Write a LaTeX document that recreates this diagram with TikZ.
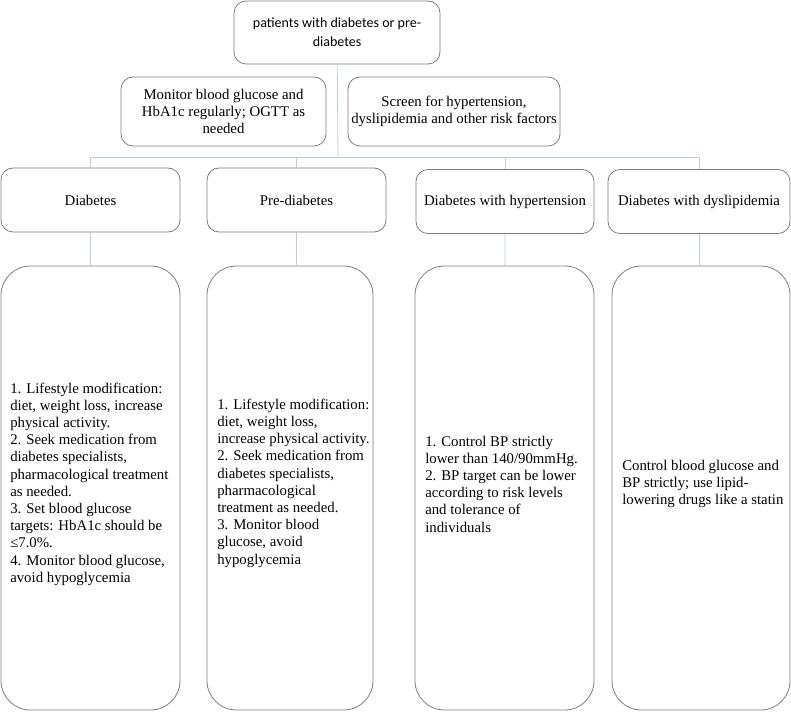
\documentclass[tikz,border=0pt]{standalone}
\usepackage{fontspec}
\setmainfont{Liberation Serif}
\newfontfamily\calibrifont{Carlito}
\usetikzlibrary{positioning,calc}
\definecolor{boxgray}{RGB}{125,125,125}
\definecolor{linkblue}{RGB}{188,206,212}
\tikzset{
    box/.style={
        draw=boxgray,
        line width=0.6pt,
        rounded corners=9pt,
        inner sep=0pt,
        align=center,
        font=\fontsize{11.1}{12.8}\selectfont,
    },
    topbox/.style={box, font=\calibrifont\fontsize{10.5}{14.25}\selectfont},
    headbox/.style={box, minimum height=48pt},
    bodybox/.style={box, rounded corners=22pt, minimum height=333pt},
    bodytext/.style={
        inner sep=0pt,
        align=left,
        anchor=west,
        font=\fontsize{11.1}{12.9}\selectfont,
    },
    link/.style={draw=linkblue, line width=0.6pt},
}

\begin{document}
\begin{tikzpicture}[x=0.75pt, y=-0.75pt]
    \useasboundingbox (0,0) rectangle (791,712);
    % top and screening
    \node [topbox, minimum width=154.5pt, minimum height=47.25pt] (patients) at (337,32.5) {patients with diabetes or pre-\\diabetes};
    \node [box, minimum width=153.75pt, minimum height=51.75pt] (monitor) at (223.5,111.5) {Monitor blood glucose and\\HbA1c regularly; OGTT as\\needed};
    \node [box, minimum width=159pt, minimum height=51.75pt] (screen) at (454,111.5) {Screen for hypertension,\\dyslipidemia and other risk factors};
    \coordinate (bus) at (338,157);
    % categories
    \node [headbox, minimum width=134.25pt] (diab) at (90.5,200) {Diabetes};
    \node [headbox, minimum width=134.25pt] (prediab) at (296.5,200) {Pre-diabetes};
    \node [headbox, minimum width=133.5pt] (hyper) at (505,201.5) {Diabetes with hypertension};
    \node [headbox, minimum width=136.5pt] (dyslip) at (699,201.5) {Diabetes with dyslipidemia};
    % treatment boxes
    \node [bodybox, minimum width=134.25pt] (diab-tx) at (90.5,488) {};
    \node [bodybox, minimum width=124.5pt] (prediab-tx) at (290,488) {};
    \node [bodybox, minimum width=134.25pt] (hyper-tx) at (504.5,488) {};
    \node [bodybox, minimum width=133.5pt] (dyslip-tx) at (701,488) {};
    \node [bodytext] (diab-txt) at (10,484) {1. Lifestyle modification:\\diet, weight loss, increase\\physical activity.\\2. Seek medication from\\diabetes specialists,\\pharmacological treatment\\as needed.\\3. Set blood glucose\\targets: HbA1c should be\\≤7.0\%.\\4. Monitor blood glucose,\\avoid hypoglycemia};
    \node [bodytext] (prediab-txt) at (217,483) {1. Lifestyle modification:\\diet, weight loss,\\increase physical activity.\\2. Seek medication from\\diabetes specialists,\\pharmacological\\treatment as needed.\\3. Monitor blood\\glucose, avoid\\hypoglycemia};
    \node [bodytext] (hyper-txt) at (425,484) {1. Control BP strictly\\lower than 140/90mmHg.\\2. BP target can be lower\\according to risk levels\\and tolerance of\\individuals};
    \node [bodytext] (dyslip-txt) at (622,484) {Control blood glucose and\\BP strictly; use lipid-\\lowering drugs like a statin};
    % connectors
    \path [link] (patients) -- (bus);
    \path [link] (diab.north) -- (diab.north |- bus) -- (dyslip.north |- bus) -- (dyslip.north);
    \path [link] (prediab.north |- bus) -- (prediab.north);
    \path [link] (hyper.north |- bus) -- (hyper.north);
    \path [link] (diab) -- (diab-tx);
    \path [link] (prediab.south) -- (prediab.south |- prediab-tx.north);
    \path [link] (hyper) -- (hyper-tx);
    \path [link] (dyslip.south) -- (dyslip.south |- dyslip-tx.north);
\end{tikzpicture}
\end{document}
